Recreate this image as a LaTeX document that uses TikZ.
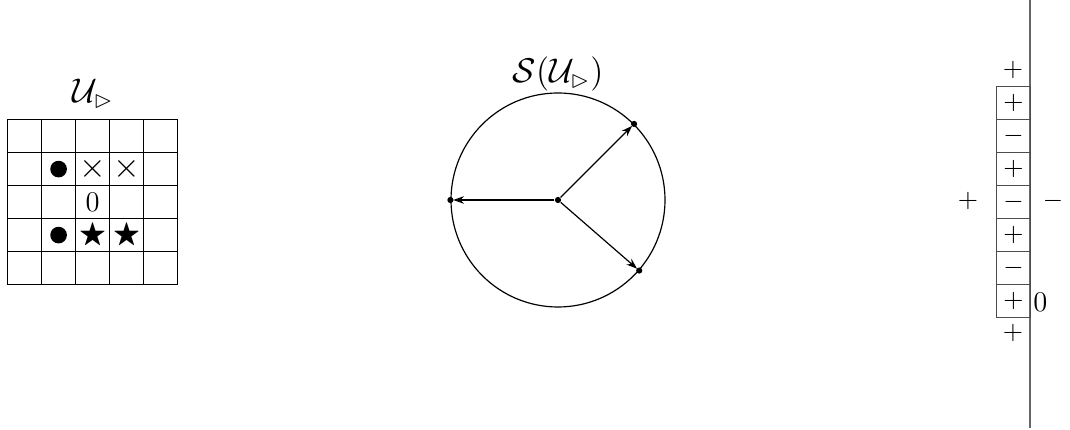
\documentclass[tikz,border=0pt]{standalone}
\usepackage{amssymb}
\usetikzlibrary{arrows.meta}
\begin{document}
\begin{tikzpicture}[x=0.42pt,y=-0.42pt,
  cell/.style={draw,line width=0.5pt,minimum width=34*0.42pt,minimum height=33*0.42pt,inner sep=0pt,anchor=north west},
  sbox/.style={draw=black!70,line width=0.5pt,minimum width=34*0.42pt,minimum height=33*0.42pt,inner sep=0pt,anchor=north west,font=\fontsize{11}{13}\selectfont},
  dot/.style={circle,fill,inner sep=0pt,minimum size=2.6pt},
  bigdot/.style={circle,fill,inner sep=0pt,minimum size=7pt},
  lbl/.style={inner sep=0pt},
  rl/.style={inner sep=0pt,font=\fontsize{11}{13}\selectfont},
  arr/.style={-{Stealth[length=4.5pt,width=3.2pt]},line width=0.5pt,shorten >=1.2pt}]
\useasboundingbox (0,0) rectangle (1070,430);
% grid
\foreach \i in {0,...,4}{
  \foreach \j in {0,...,4}{
    \node[cell] (g\i\j) at ({7+34*\i},{119+33*\j}) {};
  }
}
\node[lbl] (gt) at (93,94) {\Large$\mathcal{U}_{\vartriangleright}$};
\node[bigdot] (b1) at (g11) {};
\node[lbl] (x1) at (g21) {\Large$\times$};
\node[lbl] (x2) at (g31) {\Large$\times$};
\node[lbl] (z1) at (g22) {\large$0$};
\node[bigdot] (b2) at (g13) {};
\node[lbl] (s1) at (g23) {\large$\bigstar$};
\node[lbl] (s2) at (g33) {\large$\bigstar$};
% circle
\node[circle,draw,line width=0.5pt,minimum size=214*0.42pt,inner sep=0pt] (C) at (558,200) {};
\node[lbl] (ct) at (558,74) {\Large$\mathcal{S}(\mathcal{U}_{\vartriangleright})$};
\node[dot] (c0) at (558,200) {};
\node[dot] (p1) at (C.180) {};
\node[dot] (p2) at (C.45) {};
\node[dot] (p3) at (C.-41) {};
\draw[arr] (c0) -- (p1.center);
\draw[arr] (c0) -- (p2.center);
\draw[arr] (c0) -- (p3.center);
% right column
\draw[black!60,line width=0.8pt] (1030,0) coordinate (vt) -- (1030,428) coordinate (vb);
\foreach \k/\s in {0/+,1/-,2/+,3/-,4/+,5/-,6/+}{
  \node[sbox] (r\k) at (996,{86+33*\k}) {$\s$};
}
\node[rl] (ra) at (1013,70) {$+$};
\node[rl] (rb) at (1013,333) {$+$};
\node[rl] (rl) at (968,201) {$+$};
\node[rl] (rr) at (1053,201) {$-$};
\node[lbl,anchor=west] (r0) at (1033,302) {\large$0$};
\end{tikzpicture}
\end{document}
